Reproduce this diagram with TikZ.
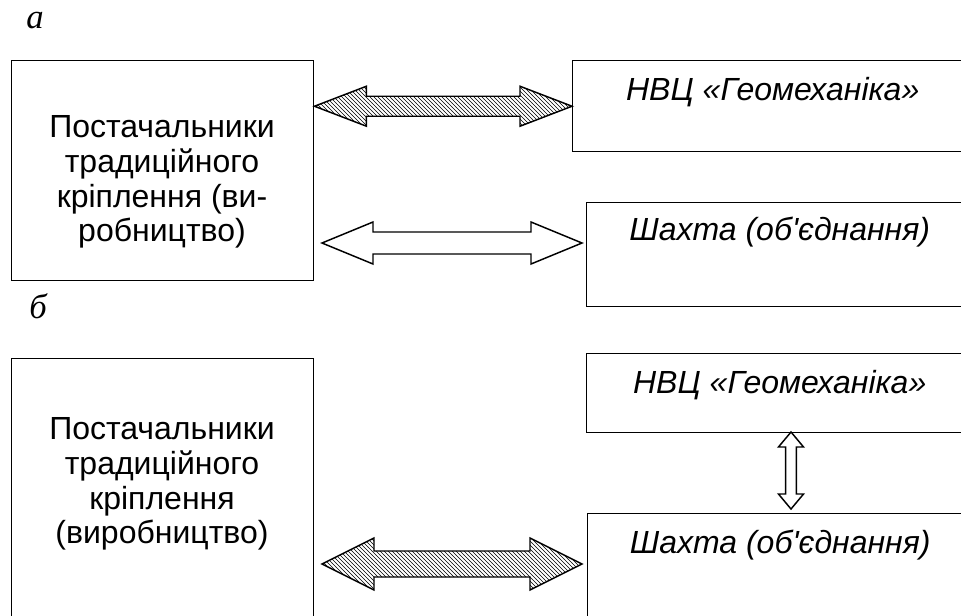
\documentclass[tikz,border=0pt]{standalone}
\usepackage{fontspec}
\newfontfamily\arialua{Liberation Sans}
\newfontfamily\timesua{Liberation Serif}
\usetikzlibrary{calc,patterns}

% block double arrow between two points: style, from, to, head length, head half width, shaft half width
\newcommand{\fatarrow}[6]{%
  \draw[#1] (#2) -- ($(#2)!#4!(#3)!#5!90:(#3)$) -- ($(#2)!#4!(#3)!#6!90:(#3)$)
    -- ($(#3)!#4!(#2)!#6!-90:(#2)$) -- ($(#3)!#4!(#2)!#5!-90:(#2)$) -- (#3)
    -- ($(#3)!#4!(#2)!#5!90:(#2)$) -- ($(#3)!#4!(#2)!#6!90:(#2)$)
    -- ($(#2)!#4!(#3)!#6!-90:(#3)$) -- ($(#2)!#4!(#3)!#5!-90:(#3)$) -- cycle;}

\tikzset{
  box/.style={draw, line width=1.1pt, inner sep=0pt, anchor=north west},
  leftbox/.style={box, minimum width=226.5pt},
  rightbox/.style={box, font=\arialua\itshape\fontsize{24}{26}\selectfont, text height=30pt},
  lefttext/.style={font=\arialua\fontsize{24}{26}\selectfont, align=center},
  tag/.style={font=\timesua\itshape\fontsize{26}{28}\selectfont, anchor=base},
  hatch/.style={draw, line width=1.1pt, pattern=north west lines},
  hollow/.style={draw, line width=1.1pt, fill=white},
}

\begin{document}
\begin{tikzpicture}[x=0.75pt, y=-0.75pt]
  \useasboundingbox (0,0) rectangle (961,615);

  % scheme a
  \node[tag] (tagA) at (35,28) {а};
  \node[leftbox, minimum height=165pt] (postA) at (11,60) {};
  \node[lefttext] (postAtext) at (162,182) {Постачальники\\традиційного\\кріплення (ви-\\робництво)};
  \node[rightbox, minimum width=300pt, text depth=38.25pt] (nvcA) at (572,60) {НВЦ «Геомеханіка»};
  \node[rightbox, minimum width=289.5pt, text height=28.5pt, text depth=49.5pt] (shA) at (586,202) {Шахта (об'єднання)};

  \coordinate (a1l) at (postA.east |- nvcA.west);
  \coordinate (a2l) at (322,243);
  \coordinate (a2r) at (582,243);
  \fatarrow{hatch}{a1l}{nvcA.west}{39pt}{15pt}{7.5pt}
  \fatarrow{hollow}{a2l}{a2r}{38.25pt}{15.75pt}{8.25pt}

  % scheme b
  \node[tag] (tagB) at (38,318) {б};
  \node[leftbox, minimum height=204pt] (postB) at (11,358) {};
  \node[lefttext] (postBtext) at (162,484) {Постачальники\\традиційного\\кріплення\\(виробництво)};
  \node[rightbox, minimum width=289.5pt, text depth=29.25pt] (nvcB) at (586,353) {НВЦ «Геомеханіка»};
  \node[rightbox, minimum width=288.75pt, text depth=54pt] (shB) at (587,513) {Шахта (об'єднання)};

  \coordinate (b1l) at (322,564);
  \coordinate (b1r) at (582,564);
  \coordinate (b2t) at (791,432);
  \coordinate (b2b) at (791,509);
  \fatarrow{hatch}{b1l}{b1r}{39pt}{19.5pt}{9.75pt}
  \fatarrow{hollow}{b2t}{b2b}{11.25pt}{9.4pt}{4.1pt}
\end{tikzpicture}
\end{document}
